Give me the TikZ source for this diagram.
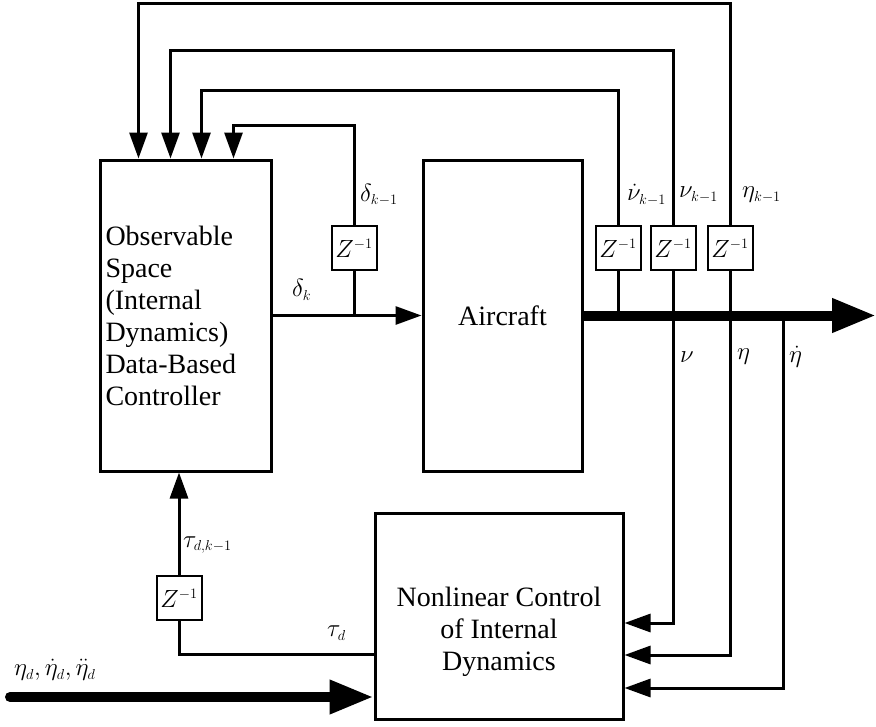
\documentclass[tikz,border=0pt]{standalone}
\usepackage{fontspec}
\setmainfont{Liberation Serif}
\usetikzlibrary{arrows.meta,positioning,calc}
\DeclareMathSizes{26}{26}{14}{10}
\tikzset{
  blockbox/.style={draw,line width=3pt,inner sep=0pt,font=\fontsize{28}{32}\selectfont},
  delaybox/.style={draw,line width=2pt,fill=white,minimum width=45pt,minimum height=44pt,
                   inner sep=0pt,font=\fontsize{26}{30}\selectfont},
  sigline/.style={line width=3pt},
  sigarr/.style={line width=3pt,-{Triangle[length=26pt,width=18pt]}},
  busarr/.style={line width=10pt,-{Triangle[length=44pt,width=32pt]}},
  siglabel/.style={font=\fontsize{26}{30}\selectfont,inner sep=0pt,anchor=west}
}

\begin{document}
\begin{tikzpicture}[x=1pt,y=-1pt]
    \useasboundingbox (0,0) rectangle (876,726);
    % Main blocks
    \node[blockbox,minimum width=171pt,minimum height=311pt,text width=160pt,align=left]
      (ctrl) at (185.5,315.5) {Observable\\Space\\(Internal\\Dynamics)\\Data-Based\\Controller};
    \node[blockbox,minimum width=159pt,minimum height=311pt]
      (plant) at (502.5,315.5) {Aircraft};
    \node[blockbox,minimum width=248pt,minimum height=206pt] (nlc) at (499,616) {};
    \node[font=\fontsize{28}{32}\selectfont,align=center] (nlctext) at (499,632)
      {Nonlinear Control\\of Internal\\Dynamics};
    % Delay blocks
    \node[delaybox] (zdelta) at (354,248) {$Z^{-1}$};
    \node[delaybox] (zdnu) at (618,248) {$Z^{-1}$};
    \node[delaybox] (znu) at (673,248) {$Z^{-1}$};
    \node[delaybox] (zeta) at (730,248) {$Z^{-1}$};
    \node[delaybox] (ztau) at (179,598) {$Z^{-1}$};
    % Taps and free ends
    \coordinate (dtap) at (zdelta |- ctrl.east);
    \coordinate (out) at (876,315.5);
    \coordinate (etadot) at (783,315.5);
    \coordinate (refin) at (10,697);
    % Control signal and its delay
    \draw[sigarr] (ctrl.east) -- (plant.west);
    \draw[sigline] (dtap) -- (zdelta.south);
    \draw[sigarr] (zdelta.north) -- (zdelta.north |- 0,125) -| ([xshift=135pt]ctrl.north west);
    % Output bus
    \draw[busarr] (plant.east) -- (out);
    \draw[sigline] (zdnu.south) -- (zdnu.south |- plant.east);
    \draw[sigline] (znu.south) -- (znu.south |- plant.east);
    \draw[sigline] (zeta.south) -- (zeta.south |- plant.east);
    % Delayed feedback to the controller
    \draw[sigarr] (zdnu.north) -- (zdnu.north |- 0,90) -| ([xshift=103pt]ctrl.north west);
    \draw[sigarr] (znu.north) -- (znu.north |- 0,50) -| ([xshift=72pt]ctrl.north west);
    \draw[sigarr] (zeta.north) -- (zeta.north |- 0,3) -| ([xshift=40pt]ctrl.north west);
    % States to the nonlinear controller
    \draw[sigarr] (znu.south |- plant.east) |- (nlc.east |- 0,623);
    \draw[sigarr] (zeta.south |- plant.east) |- (nlc.east |- 0,655);
    \draw[sigarr] (etadot) |- (nlc.east |- 0,688);
    % Torque path back to the controller
    \draw[sigline] (nlc.west |- 0,654) -| (ztau.south);
    \draw[sigarr] (ztau.north) -- (ztau.north |- ctrl.south);
    % Reference input
    \draw[busarr,line cap=round] (refin) -- (nlc.west |- refin);
    % Signal labels
    \node[siglabel] (ldk) at (292,290) {$\delta_k$};
    \node[siglabel] (ldk1) at (360,195) {$\delta_{k-1}$};
    \node[siglabel] (ldnu1) at (627,195) {$\dot{\nu}_{k-1}$};
    \node[siglabel] (lnu1) at (679,195) {$\nu_{k-1}$};
    \node[siglabel] (leta1) at (742,195) {$\eta_{k-1}$};
    \node[siglabel] (lnu) at (680,357) {$\nu$};
    \node[siglabel] (leta) at (737,357) {$\eta$};
    \node[siglabel] (letadot) at (789,357) {$\dot{\eta}$};
    \node[siglabel] (ltau1) at (183,545) {$\tau_{d,k-1}$};
    \node[siglabel] (ltau) at (327,633) {$\tau_d$};
    \node[siglabel] (lref) at (14,670) {$\eta_d,\dot{\eta}_d,\ddot{\eta}_d$};
\end{tikzpicture}
\end{document}
